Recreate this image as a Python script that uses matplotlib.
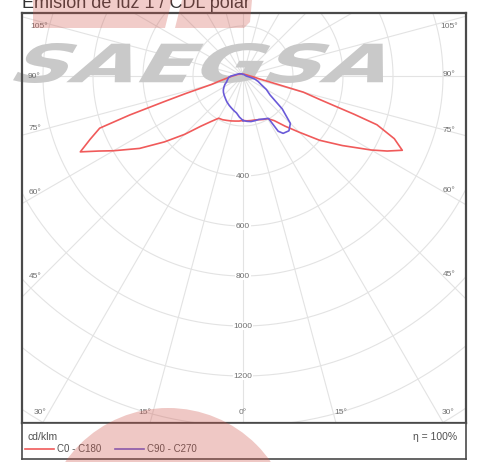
import numpy as np
import matplotlib
matplotlib.use('Agg')
import matplotlib.pyplot as plt
from matplotlib.textpath import TextPath
from matplotlib.patches import PathPatch, Ellipse, Polygon
from matplotlib.font_manager import FontProperties
from matplotlib.transforms import Affine2D

plt.rcParams['font.family'] = ['Liberation Sans', 'DejaVu Sans']

gamma_rojo = [0, 5, 10, 15, 20, 25, 30, 35, 40, 45, 50, 55, 60, 62.5, 65, 67.5,
              70, 71, 72, 73, 75, 77.5, 80, 85, 90, 105, 135, 180]
c0 = [178, 180, 181, 182, 186, 192, 197, 218, 262, 318, 400, 485, 592, 650, 703, 655,
      570, 470, 380, 320, 250, 108, 66, 42, 28, 16, 9, 8]
c180 = [178, 181, 183, 186, 189, 193, 195, 222, 262, 330, 410, 505, 598, 650, 718, 662,
        610, 480, 330, 240, 130, 100, 78, 55, 42, 22, 11, 8]

gamma_azul = [0, 5, 10, 15, 20, 25, 30, 31, 32.5, 35, 40, 45, 50, 55, 60, 65, 70, 75,
              80, 85, 90, 100, 120, 150, 180]
c90 = [178, 182, 185, 185, 185, 190, 196, 198, 262, 280, 286, 268, 205, 132, 108, 80, 65, 50,
       30, 18, 13, 10, 8, 7, 6]
c270 = [178, 165, 150, 143, 136, 130, 124, 123, 121, 118, 112, 107, 102, 96, 88, 80, 70, 65,
        61, 57, 48, 30, 18, 10, 6]

anillos = [200, 400, 600, 800, 1000, 1200, 1400, 1600, 1800]
etiquetas_anillos = [400, 600, 800, 1000, 1200]
angulos = ['105°', '90°', '75°', '60°', '45°', '30°', '15°', '0°', '15°', '30°', '45°', '60°', '75°', '90°', '105°']
titulo = 'Emisión de luz 1 / CDL polar'
leyenda = ['C0 - C180', 'C90 - C270']

# ---------------- layout (pixeles de la imagen) ----------------
W, H = 478, 462
CX, CY = 243, 76      # centro del diagrama
ESC = 4.0             # cd/klm por pixel
pos_angulos = [(39, 27), (34, 76), (35, 129), (35, 192), (35, 277), (40, 412),
               (145, 412), (243, 412), (341, 412),
               (448, 412), (449, 275), (449, 190), (449, 130), (449, 75), (449, 27)]


def px(x, y):
    return (x - CX) * ESC, (CY - y) * ESC


def curva(gamma, der, izq):
    g = np.radians(np.asarray(gamma, float))
    xd = np.asarray(der) * np.sin(g)
    yd = -np.asarray(der) * np.cos(g)
    xi = -np.asarray(izq) * np.sin(g)
    yi = -np.asarray(izq) * np.cos(g)
    return np.r_[xd, xi[::-1]], np.r_[yd, yi[::-1]]


fig = plt.figure(figsize=(W / 100, H / 100), dpi=100)
ax = fig.add_axes([22 / W, 39 / H, 444 / W, 410 / H])

# rejilla
t = np.linspace(0, 2 * np.pi, 400)
for r in anillos:
    ax.plot(r * np.sin(t), r * np.cos(t), color='#e3e3e3', lw=0.8, zorder=1)
for a in range(0, 360, 15):
    ar = np.radians(a)
    ax.plot([0, 3000 * np.sin(ar)], [0, -3000 * np.cos(ar)], color='#e3e3e3', lw=0.8, zorder=1)

for r in etiquetas_anillos:
    ax.text(0, -r, str(r), ha='center', va='center', fontsize=6, color='#707070', zorder=2.5,
            bbox=dict(fc='white', ec='none', pad=0.6))
for txt, (x, y) in zip(angulos, pos_angulos):
    xd, yd = px(x, y)
    ax.text(xd, yd, txt, ha='center', va='center', fontsize=6, color='#707070', zorder=2.5)

# marca de agua gris
fp = FontProperties(family='DejaVu Sans', weight='bold')
tp = Affine2D().skew_deg(20, 0).transform_path(TextPath((0, 0), 'SAEGSA', size=50, prop=fp))
ext = tp.get_extents()
x0, x1, y0, y1 = 13, 383, H - 83, H - 43
tr = (Affine2D().translate(-ext.x0, -ext.y0)
      .scale((x1 - x0) / ext.width, (y1 - y0) / ext.height)
      .translate(x0, y0).scale(1 / W, 1 / H))
ax.add_patch(PathPatch(tr.transform_path(tp), transform=fig.transFigure, fc='#c9c9c9',
                       ec='none', zorder=2, clip_on=False))

# curvas
xr, yr = curva(gamma_rojo, c0, c180)
l1, = ax.plot(xr, yr, color='#f05a5a', lw=1.2, zorder=3)
xa, ya = curva(gamma_azul, c90, c270)
l2, = ax.plot(xa, ya, color='#6a5ad8', lw=1.2, zorder=3.1)

ax.set_xlim(px(22, 0)[0], px(466, 0)[0])
ax.set_ylim(px(0, 423)[1], px(0, 13)[1])
ax.set_xticks([])
ax.set_yticks([])
for s in ax.spines.values():
    s.set_color('#4a4a4a')
    s.set_linewidth(1.6)

# caja de leyenda
lax = fig.add_axes([22 / W, 3 / H, 444 / W, 36 / H])
lax.set_xticks([])
lax.set_yticks([])
for s in lax.spines.values():
    s.set_color('#4a4a4a')
    s.set_linewidth(1.2)
fig.text(28 / W, 1 - 437 / H, 'cd/klm', fontsize=7.5, color='#505050', va='center')
fig.text(457 / W, 1 - 437 / H, 'η = 100%', fontsize=7.5, color='#505050', va='center', ha='right')
fig.legend([l1, l2], leyenda, loc='center left', bbox_to_anchor=(25 / W, 1 - 449 / H),
           ncol=2, frameon=False, fontsize=7, handlelength=3.0, handletextpad=0.3,
           columnspacing=1.4, borderaxespad=0, borderpad=0, labelcolor='#505050')

fig.text(22 / W, 1 - 8.5 / H, titulo, fontsize=13, color='#333333', va='baseline')

# marca de agua roja
rojo = (0.82, 0.35, 0.31)
fig.add_artist(Ellipse((168 / W, 1 - 533 / H), 250 / W, 250 / H, fc=rojo, ec='none',
                       alpha=0.33, transform=fig.transFigure, zorder=10))
for pts in ([(33, 0), (172, 0), (165, 28), (33, 28)],
            [(182, 0), (252, 0), (250, 22), (244, 28), (175, 28)]):
    fig.add_artist(Polygon([(x / W, 1 - y / H) for x, y in pts], closed=True, fc=rojo, ec='none',
                           alpha=0.3, transform=fig.transFigure, zorder=10))

fig.savefig('out.png', dpi=100)
